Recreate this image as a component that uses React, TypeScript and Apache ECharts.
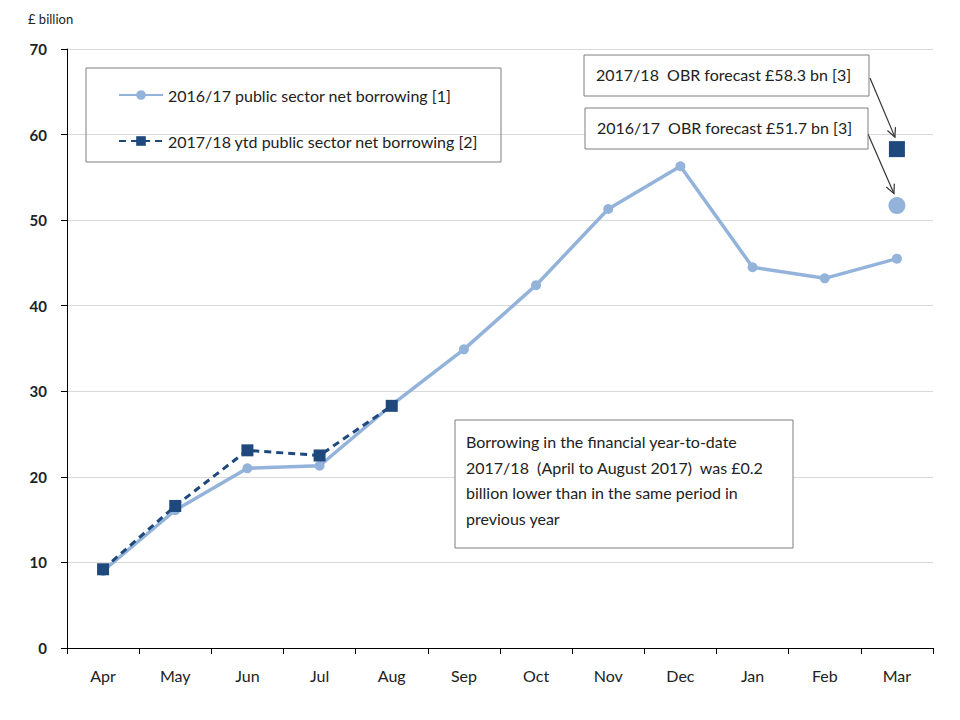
import React, { useEffect, useRef } from "react";
import * as echarts from "echarts";

const months = ["Apr", "May", "Jun", "Jul", "Aug", "Sep", "Oct", "Nov", "Dec", "Jan", "Feb", "Mar"];
const borrowing1617 = [9.0, 16.1, 21.0, 21.3, 28.4, 34.9, 42.4, 51.3, 56.3, 44.5, 43.2, 45.5];
const borrowing1718 = [9.2, 16.6, 23.1, 22.5, 28.3, null, null, null, null, null, null, null];
const forecast1617 = 51.7;
const forecast1718 = 58.3;
const yTicks = [0, 10, 20, 30, 40, 50, 60, 70];

const LIGHT = "#93B3DB";
const DARK = "#1F497D";
const FONT = "Lato";

export default function App() {
  const ref = useRef<HTMLDivElement>(null);
  useEffect(() => {
    document.body.style.margin = "0";
    if (!ref.current) return;
    const chart = echarts.init(ref.current, undefined, { renderer: "svg" });
    chart.setOption({
      animation: false,
      backgroundColor: "#ffffff",
      textStyle: { fontFamily: FONT },
      grid: { left: 67, right: 27, top: 49, bottom: 72 },
      legend: {
        orient: "vertical",
        left: 113,
        top: 82,
        itemGap: 30,
        itemWidth: 44,
        itemHeight: 12,
        textStyle: { fontFamily: FONT, fontSize: 16, color: "#222" },
        data: [
          { name: "2016/17 public sector net borrowing [1]" },
          { name: "2017/18 ytd public sector net borrowing [2]" },
        ],
      },
      xAxis: {
        type: "category",
        data: months,
        boundaryGap: true,
        axisLine: { lineStyle: { color: "#000", width: 1 } },
        axisTick: { show: true, length: 6, lineStyle: { color: "#000" } },
        axisLabel: { fontFamily: FONT, fontSize: 16, color: "#222", margin: 19 },
      },
      yAxis: {
        type: "value",
        min: 0,
        max: 70,
        interval: 10,
        axisLine: { show: true, lineStyle: { color: "#000", width: 1 } },
        axisTick: { show: true, length: 6, lineStyle: { color: "#000" } },
        axisLabel: {
          fontFamily: FONT,
          fontSize: 15,
          fontWeight: "bold",
          color: "#222",
          margin: 20,
          formatter: (v: number) => (yTicks.includes(v) ? String(v) : ""),
        },
        splitLine: { show: true, lineStyle: { color: "#d9d9d9", width: 1 } },
      },
      series: [
        {
          name: "2016/17 public sector net borrowing [1]",
          type: "line",
          data: borrowing1617,
          symbol: "circle",
          symbolSize: 10,
          itemStyle: { color: LIGHT },
          lineStyle: { color: LIGHT, width: 3.5 },
          z: 2,
        },
        {
          name: "2017/18 ytd public sector net borrowing [2]",
          type: "line",
          data: borrowing1718,
          symbol: "rect",
          symbolSize: 12,
          itemStyle: { color: DARK },
          lineStyle: { color: DARK, width: 3, type: [7, 5] },
          z: 3,
        },
        {
          name: "forecast1617",
          type: "scatter",
          data: [[11, forecast1617]],
          symbol: "circle",
          symbolSize: 17,
          itemStyle: { color: LIGHT, opacity: 1 },
        },
        {
          name: "forecast1718",
          type: "scatter",
          data: [[11, forecast1718]],
          symbol: "rect",
          symbolSize: 16,
          itemStyle: { color: DARK, opacity: 1 },
        },
      ],
    });

    const sq = chart.convertToPixel({ seriesIndex: 3 }, [11, forecast1718]) as number[];
    const ci = chart.convertToPixel({ seriesIndex: 2 }, [11, forecast1617]) as number[];

    const arrow = (x1: number, y1: number, x2: number, y2: number) => {
      const ang = Math.atan2(y2 - y1, x2 - x1);
      const L = 10;
      const a1 = ang + Math.PI - 0.45;
      const a2 = ang + Math.PI + 0.45;
      return [
        { type: "line", shape: { x1, y1, x2, y2 }, style: { stroke: "#333", lineWidth: 1.2 } },
        {
          type: "polyline",
          shape: {
            points: [
              [x2 + L * Math.cos(a1), y2 + L * Math.sin(a1)],
              [x2, y2],
              [x2 + L * Math.cos(a2), y2 + L * Math.sin(a2)],
            ],
          },
          style: { stroke: "#333", lineWidth: 1.2, fill: null },
        },
      ];
    };

    const box = (x: number, y: number, w: number, h: number) => ({
      type: "rect",
      shape: { x, y, width: w, height: h },
      style: { fill: "#fff", stroke: "#7f7f7f", lineWidth: 1 },
      z: 10,
    });
    const txt = (x: number, y: number, text: string, extra: any = {}) => ({
      type: "text",
      x,
      y,
      style: { text, fontFamily: FONT, fontSize: 16, fill: "#222", ...extra },
      z: 11,
    });

    chart.setOption({
      graphic: [
        txt(28, 12, "£ billion", { fontSize: 13 }),
        { ...box(86, 68, 415, 94), z: 0, style: { fill: "none", stroke: "#7f7f7f", lineWidth: 1 } },
        box(584, 55, 285, 41),
        txt(596, 66, "2017/18  OBR forecast £58.3 bn [3]"),
        box(585, 108, 283, 41),
        txt(597, 119, "2016/17  OBR forecast £51.7 bn [3]"),
        ...arrow(870, 78, sq[0] - 2, sq[1] - 12),
        ...arrow(868, 134, ci[0] - 3, ci[1] - 12),
        box(455, 420, 338, 128),
        txt(466, 429, "Borrowing in the financial year-to-date\n2017/18  (April to August 2017)  was £0.2\nbillion lower than in the same period in\nprevious year", { lineHeight: 25.5 }),
      ],
    });

    return () => chart.dispose();
  }, []);
  return <div ref={ref} style={{ width: 960, height: 720 }} />;
}
